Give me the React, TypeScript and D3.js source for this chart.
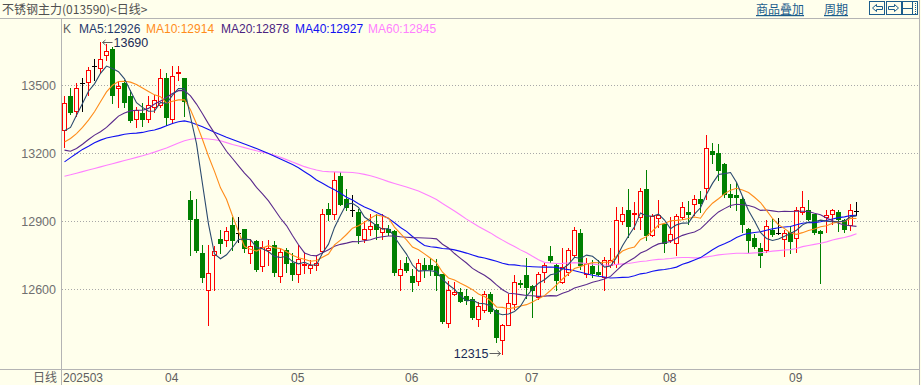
import React from 'react';
import * as d3 from 'd3';

// ---------- data ----------
const opens = [
  13303, 13453, 13388, 13509, 13516, 13585, 13579, 13634, 13663, 13490,
  13512, 13453, 13350, 13379, 13353, 13403, 13413, 13535, 13354, 13553,
  13531, 12994, 12909, 12759, 12600, 12751, 12825, 12820, 12884, 12850,
  12866, 12759, 12813, 12703, 12773, 12795, 12659, 12773, 12715, 12670,
  12706, 12697, 12706, 12770, 12957, 12931, 13100, 13001, 12950, 12943,
  12825, 12869, 12891, 12854, 12866, 12857, 12663, 12715, 12659, 12638,
  12710, 12707, 12703, 12667, 12454, 12582, 12587, 12570, 12556, 12472,
  12509, 12579, 12509, 12376, 12445, 12538, 12629, 12666, 12615, 12565,
  12678, 12747, 12710, 12634, 12678, 12754, 12851, 12670, 12703, 12678,
  12653, 12707, 12712, 12901, 12950, 12932, 12920, 13045, 12842, 12917,
  12887, 12820, 12806, 12920, 12941, 12979, 13001, 13050, 13210, 13203,
  13153, 13023, 13016, 13001, 12869, 12829, 12781, 12773, 12862, 12850,
  12825, 12854, 12829, 12940, 12950, 12931, 12857, 12920, 12931, 12940,
  12906, 12884, 12945,
];
const highs = [
  13453, 13491, 13513, 13534, 13582, 13615, 13690, 13682, 13668, 13516,
  13524, 13482, 13406, 13421, 13453, 13460, 13571, 13553, 13585, 13588,
  13535, 13034, 12998, 12796, 12796, 12791, 12862, 12875, 12920, 12918,
  12869, 12825, 12820, 12813, 12817, 12813, 12784, 12781, 12759, 12798,
  12766, 12729, 12751, 12957, 12982, 13119, 13119, 13045, 13016, 12957,
  12901, 12935, 12935, 12935, 12884, 12862, 12729, 12744, 12692, 12734,
  12741, 12741, 12734, 12670, 12638, 12634, 12607, 12604, 12567, 12545,
  12592, 12587, 12512, 12450, 12582, 12663, 12641, 12737, 12622, 12678,
  12715, 12791, 12715, 12785, 12781, 12876, 12869, 12739, 12729, 12729,
  12744, 12781, 12965, 12965, 13045, 12987, 13050, 13129, 12935, 12997,
  12894, 12920, 12935, 12987, 12990, 13016, 13034, 13281, 13248, 13241,
  13159, 13067, 13075, 13009, 12873, 12847, 12803, 12906, 12913, 12917,
  12862, 12879, 12965, 13035, 12994, 12935, 12862, 12950, 12957, 12950,
  12913, 12979, 12987,
];
const lows = [
  13229, 13376, 13365, 13388, 13457, 13526, 13553, 13612, 13421, 13406,
  13406, 13340, 13315, 13321, 13340, 13384, 13406, 13325, 13335, 13526,
  13365, 12751, 12766, 12634, 12443, 12600, 12759, 12793, 12776, 12810,
  12766, 12717, 12681, 12681, 12707, 12659, 12634, 12678, 12644, 12631,
  12673, 12675, 12685, 12759, 12906, 12909, 12972, 12950, 12923, 12803,
  12810, 12840, 12825, 12822, 12840, 12666, 12597, 12678, 12594, 12622,
  12656, 12663, 12597, 12454, 12435, 12575, 12545, 12538, 12469, 12440,
  12501, 12498, 12369, 12315, 12442, 12516, 12609, 12564, 12479, 12556,
  12634, 12722, 12597, 12629, 12663, 12744, 12692, 12653, 12656, 12663,
  12597, 12700, 12700, 12891, 12832, 12869, 12865, 12820, 12835, 12876,
  12766, 12810, 12751, 12913, 12888, 12928, 12943, 13001, 13159, 13082,
  13006, 12965, 12950, 12854, 12766, 12781, 12700, 12766, 12835, 12844,
  12747, 12759, 12766, 12932, 12906, 12847, 12629, 12854, 12891, 12859,
  12854, 12862, 12928,
];
const closes = [
  13421, 13384, 13491, 13509, 13568, 13585, 13615, 13651, 13457, 13497,
  13428, 13347, 13391, 13354, 13412, 13435, 13535, 13362, 13544, 13559,
  13431, 12909, 12773, 12656, 12675, 12769, 12806, 12860, 12817, 12850,
  12781, 12791, 12690, 12788, 12784, 12678, 12766, 12717, 12670, 12735,
  12712, 12707, 12719, 12931, 12931, 13082, 12975, 12965, 12950, 12840,
  12869, 12881, 12869, 12872, 12854, 12678, 12692, 12685, 12631, 12719,
  12690, 12690, 12665, 12460, 12600, 12587, 12550, 12553, 12479, 12526,
  12578, 12506, 12391, 12442, 12541, 12634, 12623, 12612, 12600, 12670,
  12710, 12732, 12641, 12700, 12773, 12864, 12707, 12715, 12673, 12667,
  12732, 12729, 12906, 12932, 12880, 12938, 13034, 12840, 12923, 12928,
  12807, 12843, 12925, 12962, 12932, 13001, 12982, 13226, 13200, 13126,
  13023, 13006, 13009, 12888, 12818, 12791, 12751, 12879, 12843, 12850,
  12850, 12814, 12950, 12962, 12913, 12854, 12851, 12928, 12950, 12913,
  12866, 12950, 12945,
];

// Moving-average values before enough history exists
const ma5Lead = [13300, 13315, 13369, 13421];
const ma10Lead = [13251, 13266, 13288, 13315, 13347, 13384, 13428, 13472, 13501];
const ma20Lead = [
  13215, 13210, 13222, 13241, 13262, 13281, 13296, 13315, 13340, 13365,
  13379, 13388, 13391, 13391, 13399, 13418, 13432, 13447, 13465,
];
const ma40Lead = [
  13163, 13182, 13200, 13218, 13232, 13247, 13259, 13268, 13274, 13279,
  13285, 13288, 13290, 13293, 13299, 13304, 13312, 13322, 13332, 13340,
  13344, 13338, 13328, 13318, 13306, 13294, 13283, 13272, 13262, 13252,
  13242, 13232, 13222, 13211, 13200, 13188, 13176, 13164, 13151,
];
const ma60Lead = [
  13100, 13106, 13113, 13120, 13127, 13134, 13141, 13148, 13155, 13162,
  13169, 13176, 13183, 13190, 13198, 13206, 13215, 13224, 13235, 13246,
  13256, 13263, 13266, 13266, 13264, 13261, 13256, 13248, 13240, 13233,
  13226, 13219, 13212, 13206, 13200, 13192, 13183, 13173, 13162, 13152,
  13142, 13134, 13127, 13122, 13120, 13119, 13118, 13117, 13116, 13113,
  13108, 13102, 13094, 13085, 13076, 13068, 13060, 13052, 13043,
];

const monthLabels = ['202503', '04', '05', '06', '07', '08', '09'];
const monthStarts = [0, 17, 38, 57, 77, 100, 121];
const yTicks = [12600, 12900, 13200, 13500];
const maPeriods = [5, 10, 20, 40, 60];
const maLabels = ['MA5:12926', 'MA10:12914', 'MA20:12878', 'MA40:12927', 'MA60:12845'];

// ---------- styling ----------
const BG = '#FFFFEC';
const UP = '#FF0000';
const DOWN = '#008000';
const maColors = ['#2B4A6E', '#FF8C1A', '#5A2A8C', '#1010F0', '#FF80FF'];
const maTextColors = ['#1F3A6E', '#FF8C1A', '#4A2380', '#1010F0', '#FF80FF'];
const legendX = [79, 146, 221, 295, 368];
const LINK = '#1C5D8C';
const NUMFONT = '"Liberation Sans", Arial, sans-serif';
const CJKFONT = '"Noto Sans CJK SC", sans-serif';

function movingAverage(period: number, lead: number[]): number[] {
  return closes.map((_, i) => {
    if (i < period - 1) return lead[i];
    return d3.mean(closes.slice(i - period + 1, i + 1)) as number;
  });
}

export default function App() {
  const W = 921;
  const H = 385;
  const n = closes.length;
  const x = d3.scaleLinear().domain([0, n - 1]).range([64.5, 64.5 + 6 * (n - 1)]);
  const y = d3.scaleLinear().domain([12600, 13500]).range([289.5, 85.5]);

  const leads = [ma5Lead, ma10Lead, ma20Lead, ma40Lead, ma60Lead];
  const mas = maPeriods.map((p, k) => movingAverage(p, leads[k]));
  const line = d3
    .line<number>()
    .x((_, i) => x(i))
    .y((v) => y(v));

  const hiIdx = d3.maxIndex(highs);
  const loIdx = d3.minIndex(lows);
  const hiY = Math.round(y(highs[hiIdx])) + 0.5;
  const loY = Math.round(y(lows[loIdx])) - 0.5;

  return (
    <svg
      width={W}
      height={H}
      style={{ position: 'absolute', left: 0, top: 0, background: BG }}
    >
      <rect x={0} y={0} width={W} height={H} fill={BG} />
      {/* header */}
      <text x={2} y={14} fontSize={12} fill="#505050" fontFamily={CJKFONT}>
        不锈钢主力(013590)&lt;日线&gt;
      </text>
      <text x={756} y={14} fontSize={12} fill={LINK} fontFamily={CJKFONT} textDecoration="underline">
        商品叠加
      </text>
      <text x={824} y={14} fontSize={12} fill={LINK} fontFamily={CJKFONT} textDecoration="underline">
        周期
      </text>
      {/* icon buttons */}
      <g stroke={LINK} fill="none" strokeWidth={1}>
        <rect x={869.5} y={1.5} width={15} height={13} />
        <path d="M872.5,8 L876.5,4.5 L876.5,6.5 L882.5,6.5 L882.5,9.5 L876.5,9.5 L876.5,11.5 Z" />
        <rect x={886.5} y={1.5} width={15} height={13} />
        <path d="M898.5,8 L894.5,4.5 L894.5,6.5 L888.5,6.5 L888.5,9.5 L894.5,9.5 L894.5,11.5 Z" />
        <rect x={902.5} y={1.5} width={15} height={13} />
        <line x1={903} x2={913} y1={8.5} y2={8.5} />
        <line x1={912.5} x2={912.5} y1={2} y2={14} />
        <line x1={915.5} x2={915.5} y1={3} y2={14} strokeDasharray="1,1" />
      </g>
      <line x1={0} x2={920} y1={18.5} y2={18.5} stroke="#B4B4B4" />

      {/* frame */}
      <line x1={61.5} x2={61.5} y1={19} y2={H} stroke="#B4B4B4" />
      <line x1={0} x2={920} y1={369.5} y2={369.5} stroke="#B4B4B4" />
      <line x1={919.5} x2={919.5} y1={0} y2={H} stroke="#B4B4B4" />

      {/* grid + y labels */}
      {yTicks.map((t) => (
        <g key={t}>
          <line x1={62} x2={919} y1={y(t)} y2={y(t)} stroke="#A8A8A8" strokeDasharray="1,2" />
          <text x={56} y={y(t) + 4.5} fontSize={12.5} textAnchor="end" fill="#707070" fontFamily={NUMFONT}>
            {t}
          </text>
        </g>
      ))}

      {/* x labels */}
      <text x={33} y={382} fontSize={12} fill="#606060" fontFamily={CJKFONT}>
        日线
      </text>
      {monthLabels.map((m, k) => (
        <text key={m} x={x(monthStarts[k]) - 1.5} y={382} fontSize={12} fill="#606060" fontFamily={NUMFONT}>
          {m}
        </text>
      ))}

      {/* legend */}
      <text x={63} y={33} fontSize={12} fill="#606060" fontFamily={NUMFONT}>
        K
      </text>
      {maLabels.map((l, k) => (
        <text key={l} x={legendX[k]} y={33} fontSize={12} fill={maTextColors[k]} fontFamily={NUMFONT}>
          {l}
        </text>
      ))}

      {/* candles */}
      {closes.map((c, i) => {
        const o = opens[i];
        const cx = x(i);
        const yh = Math.round(y(highs[i]));
        const yl = Math.round(y(lows[i]));
        const top = Math.round(y(Math.max(o, c)));
        const bot = Math.round(y(Math.min(o, c)));
        if (c > o) {
          return (
            <g key={i}>
              <line x1={cx} x2={cx} y1={yh} y2={yl + 1} stroke={UP} />
              <rect x={cx - 2} y={top + 0.5} width={4} height={Math.max(1, bot - top)} fill={BG} stroke={UP} />
            </g>
          );
        }
        if (c < o) {
          return (
            <g key={i}>
              <line x1={cx} x2={cx} y1={yh} y2={yl + 1} stroke={DOWN} />
              <rect x={cx - 2.5} y={top} width={5} height={Math.max(1, bot - top + 1)} fill={DOWN} />
            </g>
          );
        }
        return (
          <g key={i}>
            <line x1={cx} x2={cx} y1={yh} y2={yl + 1} stroke="#000" />
            <line x1={cx - 2.5} x2={cx + 2.5} y1={top + 0.5} y2={top + 0.5} stroke="#000" />
          </g>
        );
      })}

      {/* moving averages */}
      {mas
        .map((m, k) => ({ m, k }))
        .reverse()
        .map(({ m, k }) => (
          <path key={k} d={line(m) || ''} fill="none" stroke={maColors[k]} strokeWidth={1.1} />
        ))}

      {/* high / low annotations */}
      <g>
        <line x1={x(hiIdx) + 2} x2={x(hiIdx) + 12} y1={hiY} y2={hiY} stroke="#606060" />
        <path d={`M${x(hiIdx) + 2},${hiY} l3,-2.5 M${x(hiIdx) + 2},${hiY} l3,2.5`} stroke="#606060" fill="none" />
        <text x={x(hiIdx) + 13} y={hiY + 4.5} fontSize={12.5} fill="#1A2A55" fontFamily={NUMFONT}>
          {highs[hiIdx]}
        </text>
        <line x1={x(loIdx) - 13} x2={x(loIdx) - 2} y1={loY} y2={loY} stroke="#606060" />
        <path d={`M${x(loIdx) - 2},${loY} l-3,-2.5 M${x(loIdx) - 2},${loY} l-3,2.5`} stroke="#606060" fill="none" />
        <text x={x(loIdx) - 14} y={loY + 4.5} fontSize={12.5} textAnchor="end" fill="#1A2A55" fontFamily={NUMFONT}>
          {lows[loIdx]}
        </text>
      </g>
    </svg>
  );
}
